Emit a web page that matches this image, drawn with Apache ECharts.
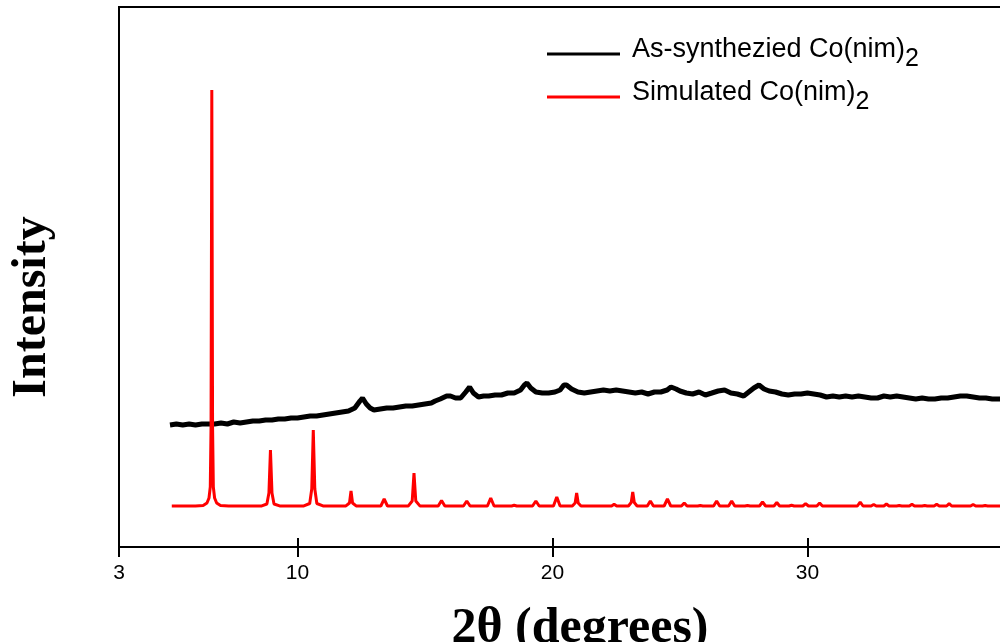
<!DOCTYPE html>
<html>
<head>
<meta charset="utf-8">
<title>XRD Co(nim)2</title>
<script src="https://cdn.jsdelivr.net/npm/echarts@6/dist/echarts.min.js"></script>
<style>
  html, body { margin: 0; padding: 0; background: #fff; }
  #chart { width: 1000px; height: 642px; }
</style>
</head>
<body>
<div id="chart"></div>
<script>
// x tick labels (2theta, degrees)
const xTicks = [3, 10, 20, 30]

// measured pattern: 2theta and intensity (a.u.)
const synAngle = [
  5.0, 5.25, 5.5, 5.75, 6.0, 6.25, 6.5, 6.75, 7.0, 7.25, 7.5, 7.75, 8.0, 8.25, 8.5, 8.75,
  9.0, 9.25, 9.5, 9.75, 10.0, 10.25, 10.5, 10.75, 11.0, 11.25, 11.5, 11.75, 12.0, 12.25,
  12.45, 12.55, 12.7, 12.85, 13.0, 13.25, 13.5, 13.75, 14.0, 14.25, 14.5, 14.75, 15.0,
  15.25, 15.4, 15.6, 15.85, 16.0, 16.2, 16.4, 16.6, 16.75, 16.9, 17.1, 17.3, 17.5, 17.75,
  18.0, 18.25, 18.5, 18.75, 18.9, 19.0, 19.15, 19.35, 19.6, 19.85, 20.1, 20.3, 20.45,
  20.55, 20.75, 21.0, 21.25, 21.5, 21.75, 22.0, 22.25, 22.5, 22.75, 23.0, 23.25, 23.5,
  23.75, 24.0, 24.25, 24.5, 24.65, 24.85, 25.0, 25.25, 25.5, 25.75, 26.0, 26.25, 26.5,
  26.75, 27.0, 27.25, 27.5, 27.75, 27.9, 28.1, 28.3, 28.5, 28.75, 29.0, 29.25, 29.5,
  29.75, 30.0, 30.25, 30.5, 30.75, 31.0, 31.25, 31.5, 31.75, 32.0, 32.25, 32.5, 32.75,
  33.0, 33.25, 33.5, 33.75, 34.0, 34.25, 34.5, 34.75, 35.0, 35.25, 35.5, 35.75, 36.0,
  36.25, 36.5, 36.75, 37.0, 37.25, 37.5, 37.75
]
const synIntensity = [
  1220, 1230, 1220, 1230, 1220, 1230, 1230, 1230, 1240, 1230, 1250, 1240, 1250, 1260, 1260, 1270,
  1270, 1280, 1280, 1290, 1290, 1300, 1310, 1310, 1320, 1330, 1340, 1350, 1360, 1390,
  1460, 1490, 1430, 1390, 1370, 1380, 1390, 1390, 1400, 1410, 1410, 1420, 1430,
  1440, 1460, 1480, 1510, 1510, 1490, 1490, 1550, 1600, 1540, 1500, 1510, 1510, 1520,
  1520, 1540, 1540, 1570, 1620, 1640, 1590, 1550, 1540, 1540, 1550, 1570, 1620,
  1620, 1580, 1550, 1540, 1550, 1560, 1570, 1560, 1570, 1560, 1550, 1540, 1550,
  1530, 1550, 1550, 1570, 1600, 1580, 1560, 1540, 1530, 1550, 1520, 1540, 1560,
  1570, 1540, 1530, 1510, 1560, 1590, 1620, 1580, 1560, 1550, 1530, 1520, 1530,
  1530, 1540, 1530, 1520, 1500, 1510, 1500, 1510, 1500, 1510, 1500, 1490, 1490,
  1510, 1500, 1510, 1500, 1490, 1480, 1490, 1480, 1480, 1490, 1490, 1500, 1510,
  1510, 1500, 1490, 1490, 1480, 1480, 1480
]

// simulated pattern: 2theta and intensity (a.u.)
const simAngle = [
  5.07, 6.0, 6.3, 6.45, 6.53, 6.58, 6.61, 6.64, 6.67, 6.7, 6.75, 6.83, 6.98, 7.3,
  8.6, 8.8, 8.88, 8.94, 9.0, 9.08, 9.3,
  10.25, 10.48, 10.56, 10.62, 10.68, 10.76, 11.0,
  11.9, 12.04, 12.1, 12.16, 12.3,
  13.27, 13.4, 13.53,
  14.35, 14.5, 14.57, 14.64, 14.8,
  15.52, 15.65, 15.78,
  16.51, 16.64, 16.77,
  17.45, 17.58, 17.71,
  18.4, 18.5, 18.6,
  19.22, 19.35, 19.48,
  20.04, 20.17, 20.3,
  20.78, 20.89, 20.95, 21.01, 21.12,
  22.32, 22.42, 22.52,
  22.98, 23.09, 23.15, 23.21, 23.32,
  23.72, 23.84, 23.96,
  24.38, 24.51, 24.64,
  25.06, 25.17, 25.28,
  25.7, 25.8, 25.9,
  26.32, 26.44, 26.56,
  26.91, 27.03, 27.15,
  27.55, 27.65, 27.75,
  28.12, 28.24, 28.36,
  28.69, 28.8, 28.91,
  29.28, 29.38, 29.48,
  29.82, 29.93, 30.04,
  30.37, 30.48, 30.59,
  31.96, 32.07, 32.18,
  32.5, 32.6, 32.7,
  33.0, 33.1, 33.2,
  33.5, 33.6, 33.7,
  34.0, 34.1, 34.2,
  34.5, 34.6, 34.7,
  34.97, 35.07, 35.17,
  35.46, 35.56, 35.66,
  36.4, 36.5, 36.6,
  36.87, 36.97, 37.07,
  37.75
]
const simIntensity = [
  410, 411, 415, 440, 490, 600, 1200, 4570, 1200, 600, 490, 440, 415, 411,
  411, 430, 540, 970, 540, 430, 411,
  411, 435, 580, 1170, 580, 435, 411,
  411, 440, 560, 440, 411,
  410, 480, 410,
  411, 460, 740, 460, 411,
  410, 465, 410,
  410, 460, 410,
  410, 490, 410,
  410, 417, 410,
  410, 460, 410,
  410, 500, 410,
  410, 440, 540, 440, 410,
  410, 427, 410,
  410, 445, 550, 445, 410,
  410, 460, 410,
  410, 480, 410,
  410, 440, 410,
  410, 415, 410,
  410, 460, 410,
  410, 460, 410,
  410, 415, 410,
  410, 450, 410,
  410, 445, 410,
  410, 417, 410,
  410, 434, 410,
  410, 440, 410,
  410, 450, 410,
  410, 425, 410,
  410, 430, 410,
  410, 415, 410,
  410, 427, 410,
  410, 415, 410,
  410, 427, 410,
  410, 434, 410,
  410, 425, 410,
  410, 415, 410,
  410
]

const sansFont = 'Liberation Sans, Arial, sans-serif'
const serifFont = 'Liberation Serif, Times New Roman, serif'

const zip = (xs, ys) => xs.map((x, i) => [x, ys[i]])

const chart = echarts.init(document.getElementById('chart'))

const option = {
  animation: false,
  backgroundColor: '#fff',
  grid: {
    left: 119,
    right: -5,
    top: 7,
    bottom: 95,
    outerBoundsMode: 'none',
    show: true,
    borderColor: '#000',
    borderWidth: 2
  },
  legend: {
    orient: 'vertical',
    left: 542,
    top: 31,
    itemWidth: 73,
    itemHeight: 3,
    itemGap: 7,
    icon: 'rect',
    formatter: name => '{a|' + name.slice(0, -1) + '}{sub|2}',
    textStyle: {
      color: '#000',
      fontFamily: sansFont,
      rich: {
        a: { fontSize: 27, fontFamily: sansFont, color: '#000', verticalAlign: 'bottom', padding: [0, 0, 9, 7] },
        sub: { fontSize: 25, fontFamily: sansFont, color: '#000', verticalAlign: 'bottom' }
      }
    }
  },
  xAxis: [
    {
      type: 'value',
      min: 3,
      max: 37.75,
      position: 'bottom',
      axisLine: { lineStyle: { color: '#000', width: 2 } },
      axisTick: { customValues: xTicks, length: 10, lineStyle: { color: '#000', width: 2 } },
      axisLabel: { customValues: xTicks, fontSize: 21, color: '#000', margin: 16, fontFamily: sansFont },
      splitLine: { show: false },
      name: '2θ (degrees)',
      nameLocation: 'middle',
      nameGap: 57,
      nameTextStyle: { fontFamily: serifFont, fontWeight: 'bold', fontSize: 50, color: '#000', padding: [0, 0, 0, 36] }
    },
    {
      type: 'value',
      min: 3,
      max: 37.75,
      position: 'bottom',
      axisLine: { show: false },
      axisTick: { inside: true, customValues: [10, 20, 30], length: 9, lineStyle: { color: '#000', width: 2 } },
      axisLabel: { show: false },
      splitLine: { show: false }
    }
  ],
  yAxis: {
    type: 'value',
    min: 0,
    max: 5400,
    axisLine: { show: true, lineStyle: { color: '#000', width: 2 } },
    axisTick: { show: false },
    axisLabel: { show: false },
    splitLine: { show: false },
    name: 'Intensity',
    nameLocation: 'middle',
    nameRotate: 90,
    nameGap: 62,
    nameTextStyle: { fontFamily: serifFont, fontWeight: 'bold', fontSize: 48, color: '#000', padding: [0, 60, 0, 0] }
  },
  series: [
    {
      name: 'As-synthezied Co(nim)2',
      type: 'line',
      data: zip(synAngle, synIntensity),
      showSymbol: false,
      lineStyle: { color: '#000', width: 5 },
      itemStyle: { color: '#000' }
    },
    {
      name: 'Simulated Co(nim)2',
      type: 'line',
      data: zip(simAngle, simIntensity),
      showSymbol: false,
      lineStyle: { color: '#ff0000', width: 3 },
      itemStyle: { color: '#ff0000' }
    }
  ]
}

chart.setOption(option)
</script>
</body>
</html>
